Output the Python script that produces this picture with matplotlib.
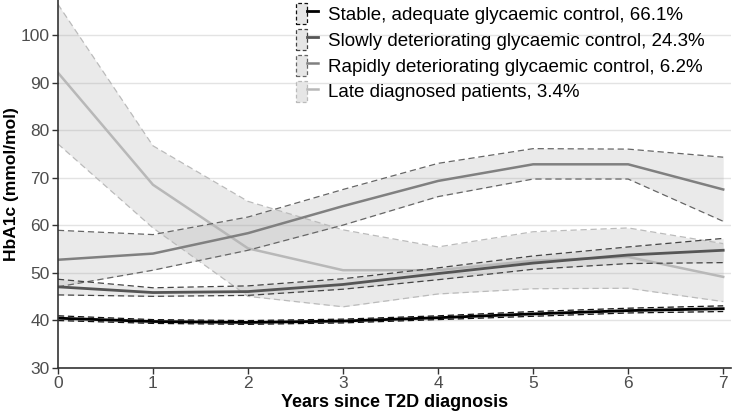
import matplotlib.pyplot as plt
from matplotlib.patches import Patch
from matplotlib.lines import Line2D
from matplotlib.legend_handler import HandlerTuple

plt.rcParams['font.family'] = ['Liberation Sans', 'DejaVu Sans']

years = [0, 1, 2, 3, 4, 5, 6, 7]

labels = ['Stable, adequate glycaemic control, 66.1%',
          'Slowly deteriorating glycaemic control, 24.3%',
          'Rapidly deteriorating glycaemic control, 6.2%',
          'Late diagnosed patients, 3.4%']

stable = [40.4, 39.7, 39.5, 39.8, 40.5, 41.3, 42.0, 42.4]
stable_lo = [39.9, 39.3, 39.1, 39.4, 40.1, 40.8, 41.5, 41.8]
stable_hi = [40.9, 40.1, 39.9, 40.2, 40.9, 41.8, 42.5, 43.0]

slow = [47.0, 45.8, 46.0, 47.5, 49.8, 52.0, 53.7, 54.7]
slow_lo = [45.3, 45.0, 45.2, 46.5, 48.5, 50.7, 51.9, 52.1]
slow_hi = [48.6, 46.8, 47.2, 48.7, 51.0, 53.5, 55.4, 57.2]

rapid = [52.7, 54.0, 58.3, 64.0, 69.3, 72.8, 72.8, 67.5]
rapid_lo = [47.0, 50.5, 54.7, 60.0, 66.0, 69.7, 69.7, 60.8]
rapid_hi = [58.9, 58.0, 61.7, 67.5, 73.0, 76.1, 76.0, 74.3]

late = [92.1, 68.5, 55.1, 50.5, 50.5, 52.5, 53.3, 49.1]
late_lo = [77.1, 59.4, 45.0, 42.8, 45.5, 46.6, 46.7, 43.9]
late_hi = [106.5, 76.7, 65.0, 59.0, 55.4, 58.6, 59.4, 56.1]

series = [(stable, stable_lo, stable_hi), (slow, slow_lo, slow_hi),
          (rapid, rapid_lo, rapid_hi), (late, late_lo, late_hi)]
line_cols = ['#000000', '#555555', '#808080', '#b8b8b8']
dash_cols = ['#111111', '#444444', '#666666', '#bbbbbb']
widths = [2.0, 2.0, 1.8, 1.8]

fig = plt.figure(figsize=(7.33, 4.13), dpi=100)
ax = fig.add_axes([0.079, 0.11, 0.918, 0.89])

# plot back to front so stable ends up on top
for i in [3, 2, 1, 0]:
    y, lo, hi = series[i]
    ax.fill_between(years, lo, hi, color='#999999', alpha=0.2, linewidth=0)
    ax.plot(years, lo, color=dash_cols[i], linestyle=(0, (5, 3)), linewidth=0.9)
    ax.plot(years, hi, color=dash_cols[i], linestyle=(0, (5, 3)), linewidth=0.9)
    ax.plot(years, y, color=line_cols[i], linewidth=widths[i])

ax.set_xlim(0, 7.08)
ax.set_ylim(30, 107.4)
ax.set_xticks(years)
ax.set_yticks(range(30, 101, 10))
ax.grid(axis='y', color='#e3e3e3', linewidth=1)
ax.set_axisbelow(True)
for s in ['top', 'right']:
    ax.spines[s].set_visible(False)
for s in ['left', 'bottom']:
    ax.spines[s].set_color('#333333')
    ax.spines[s].set_linewidth(1.2)
ax.tick_params(axis='both', colors='#333333', labelcolor='#4d4d4d', labelsize=12.5, length=4, width=1, pad=2)

ax.set_xlabel('Years since T2D diagnosis', fontsize=13, fontweight='bold', labelpad=2)
ax.set_ylabel('HbA1c (mmol/mol)', fontsize=12.5, fontweight='bold')
ax.yaxis.set_label_coords(-0.058, 0.5)

handles = []
for i in range(4):
    p = Patch(facecolor='#e6e6e6', edgecolor=dash_cols[i], linestyle=(0, (3, 2)), linewidth=0.9)
    l = Line2D([], [], color=line_cols[i], linewidth=widths[i])
    handles.append((p, l))
ax.legend(handles, labels, handler_map={tuple: HandlerTuple(ndivide=None, pad=0)},
          loc='upper left', bbox_to_anchor=(0.354, 0.992), frameon=False, fontsize=13.5,
          handlelength=1.17, handleheight=1.35, labelspacing=0.26, handletextpad=0.55,
          borderpad=0, borderaxespad=0)

plt.savefig('out.png', dpi=100)
